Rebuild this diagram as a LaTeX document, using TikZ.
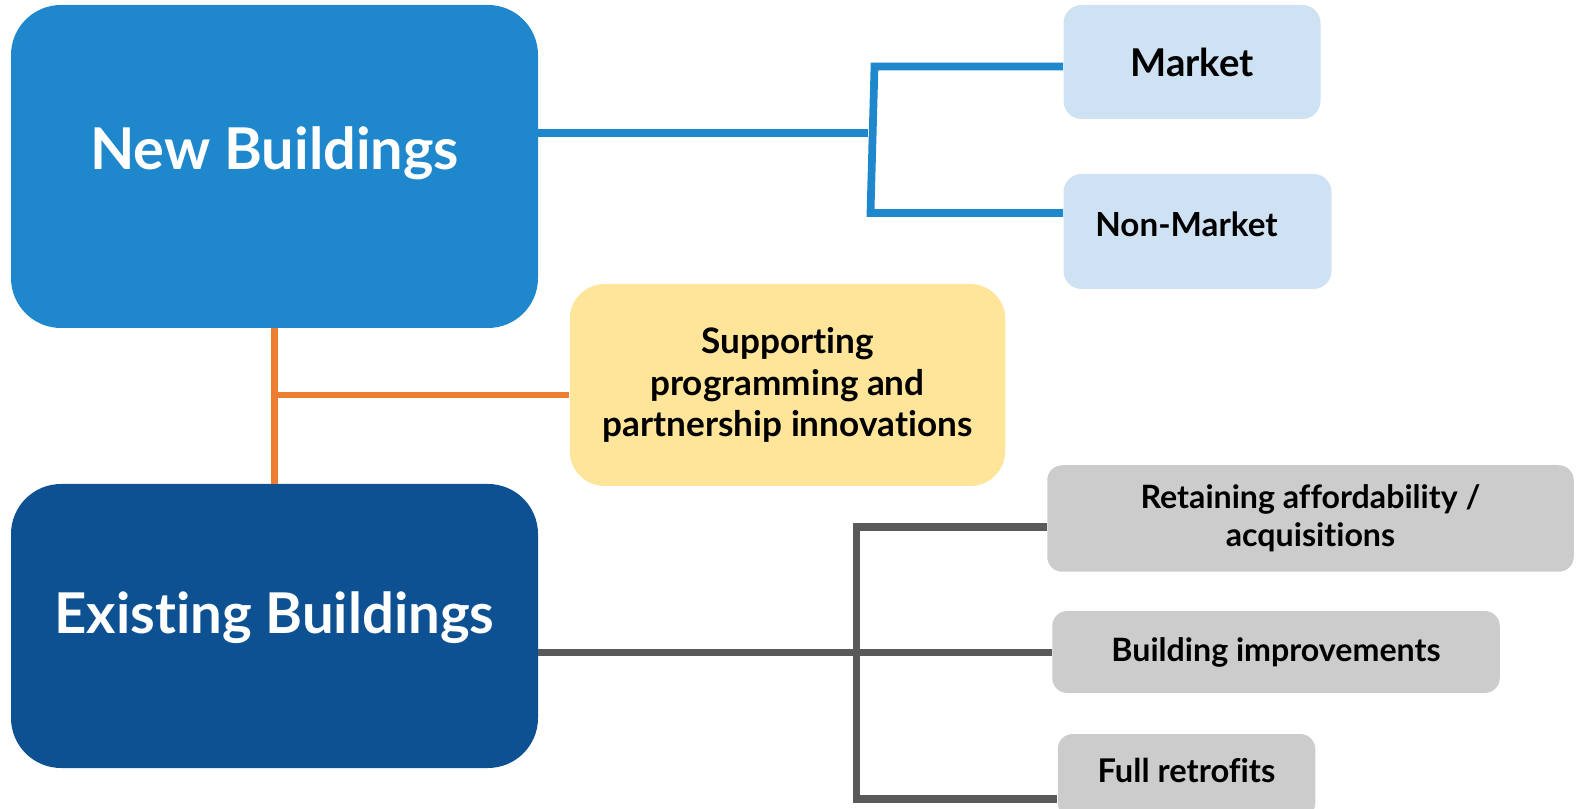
\documentclass[tikz,border=0pt]{standalone}
\usepackage{fontspec}
\setmainfont{Lato}[Ligatures=NoCommon]
\usepackage{xcolor}
\usepackage{tikz}
\usetikzlibrary{positioning,calc}
\definecolor{newcolor}{RGB}{31, 136, 205}
\definecolor{existcolor}{RGB}{13, 81, 147}
\definecolor{marketcolor}{RGB}{207, 226, 243}
\definecolor{supportcolor}{RGB}{255, 229, 153}
\definecolor{retrocolor}{RGB}{204, 204, 204}
\definecolor{linkgray}{RGB}{89, 89, 89}
\definecolor{linkorange}{RGB}{237, 125, 49}
\tikzset{
    box/.style={rectangle, inner sep=0pt, align=center, font=\bfseries},
    main box/.style={box, rounded corners=1cm, minimum width=10.54cm},
    new box/.style={main box, fill=newcolor, minimum height=6.46cm},
    exist box/.style={main box, fill=existcolor, minimum height=5.68cm},
    title text/.style={text=white, font=\bfseries\fontsize{32}{38}\selectfont},
    market box/.style={box, fill=marketcolor, rounded corners=0.36cm},
    support box/.style={box, fill=supportcolor, rounded corners=0.7cm, minimum width=8.71cm, minimum height=4.04cm,
        font=\bfseries\fontsize{20}{23.5}\selectfont},
    retro box/.style={box, fill=retrocolor, rounded corners=0.3cm,
        font=\bfseries\fontsize{18.3}{21.8}\selectfont},
    blue link/.style={draw=newcolor, line width=4.4pt},
    orange link/.style={draw=linkorange, line width=3.7pt},
    gray link/.style={draw=linkgray, line width=4pt}
}

\begin{document}
\begin{tikzpicture}
    \useasboundingbox (0,0) rectangle (31.66,16.16);

    % Main building boxes
    \node[new box] (nb) at (5.49,12.83) {};
    \node[title text, font=\bfseries\fontsize{32.8}{38}\selectfont] (nbtext) at ([yshift=0.26cm]nb.center) {New Buildings};
    \node[exist box] (eb) at (5.49,3.64) {};
    \node[title text] (ebtext) at ([yshift=0.16cm]eb.center) {Existing Buildings};

    % New building branches
    \node[market box, minimum width=5.14cm, minimum height=2.28cm, font=\bfseries\fontsize{21.8}{26}\selectfont] (market) at (23.84,14.92) {Market};
    \node[market box, minimum width=5.36cm, minimum height=2.3cm] (nonmarket) at (23.95,11.53) {};
    \node[font=\bfseries\fontsize{18.9}{22}\selectfont] (nmtext) at ([xshift=-0.22cm,yshift=0.14cm]nonmarket.center) {Non-Market};

    % Shared support
    \node[support box] (support) at (15.75,8.46) {Supporting\\programming and\\partnership innovations};

    % Existing building branches
    \node[retro box, minimum width=10.53cm, minimum height=2.13cm] (retain) at (26.21,5.79) {Retaining affordability /\\acquisitions};
    \node[retro box, minimum width=8.95cm, minimum height=1.64cm] (improve) at (25.52,3.12) {Building improvements};
    \node[retro box, minimum width=5.15cm, minimum height=1.68cm] (retrofit) at (23.73,0.64) {};
    \node[font=\bfseries\fontsize{18.6}{22}\selectfont] (retrotext) at ([yshift=0.11cm]retrofit.center) {Full retrofits};

    % Blue connectors
    \coordinate (nbjoin) at (17.35,13.5);
    \coordinate (nbtop) at (17.49,14.83);
    \coordinate (nbbot) at (17.41,11.9);
    \draw[blue link] (nb.east |- nbjoin) -- (nbjoin);
    \draw[blue link] (market.west |- nbtop) -- (nbtop) -- (nbbot) -- (nonmarket.west |- nbbot);

    % Orange connectors
    \coordinate (orjoin) at (5.49,8.26);
    \draw[orange link] (nb.south) -- (eb.north);
    \draw[orange link] (orjoin) -- (support.west |- orjoin);

    % Gray connectors
    \coordinate (grtop) at (17.13,5.62);
    \coordinate (grmid) at (17.13,3.11);
    \coordinate (grbot) at (17.13,0.18);
    \draw[gray link] (eb.east |- grmid) -- (grmid) -- (improve.west |- grmid);
    \draw[gray link] (retain.west |- grtop) -- (grtop) -- (grbot) -- (retrofit.west |- grbot);
\end{tikzpicture}
\end{document}
